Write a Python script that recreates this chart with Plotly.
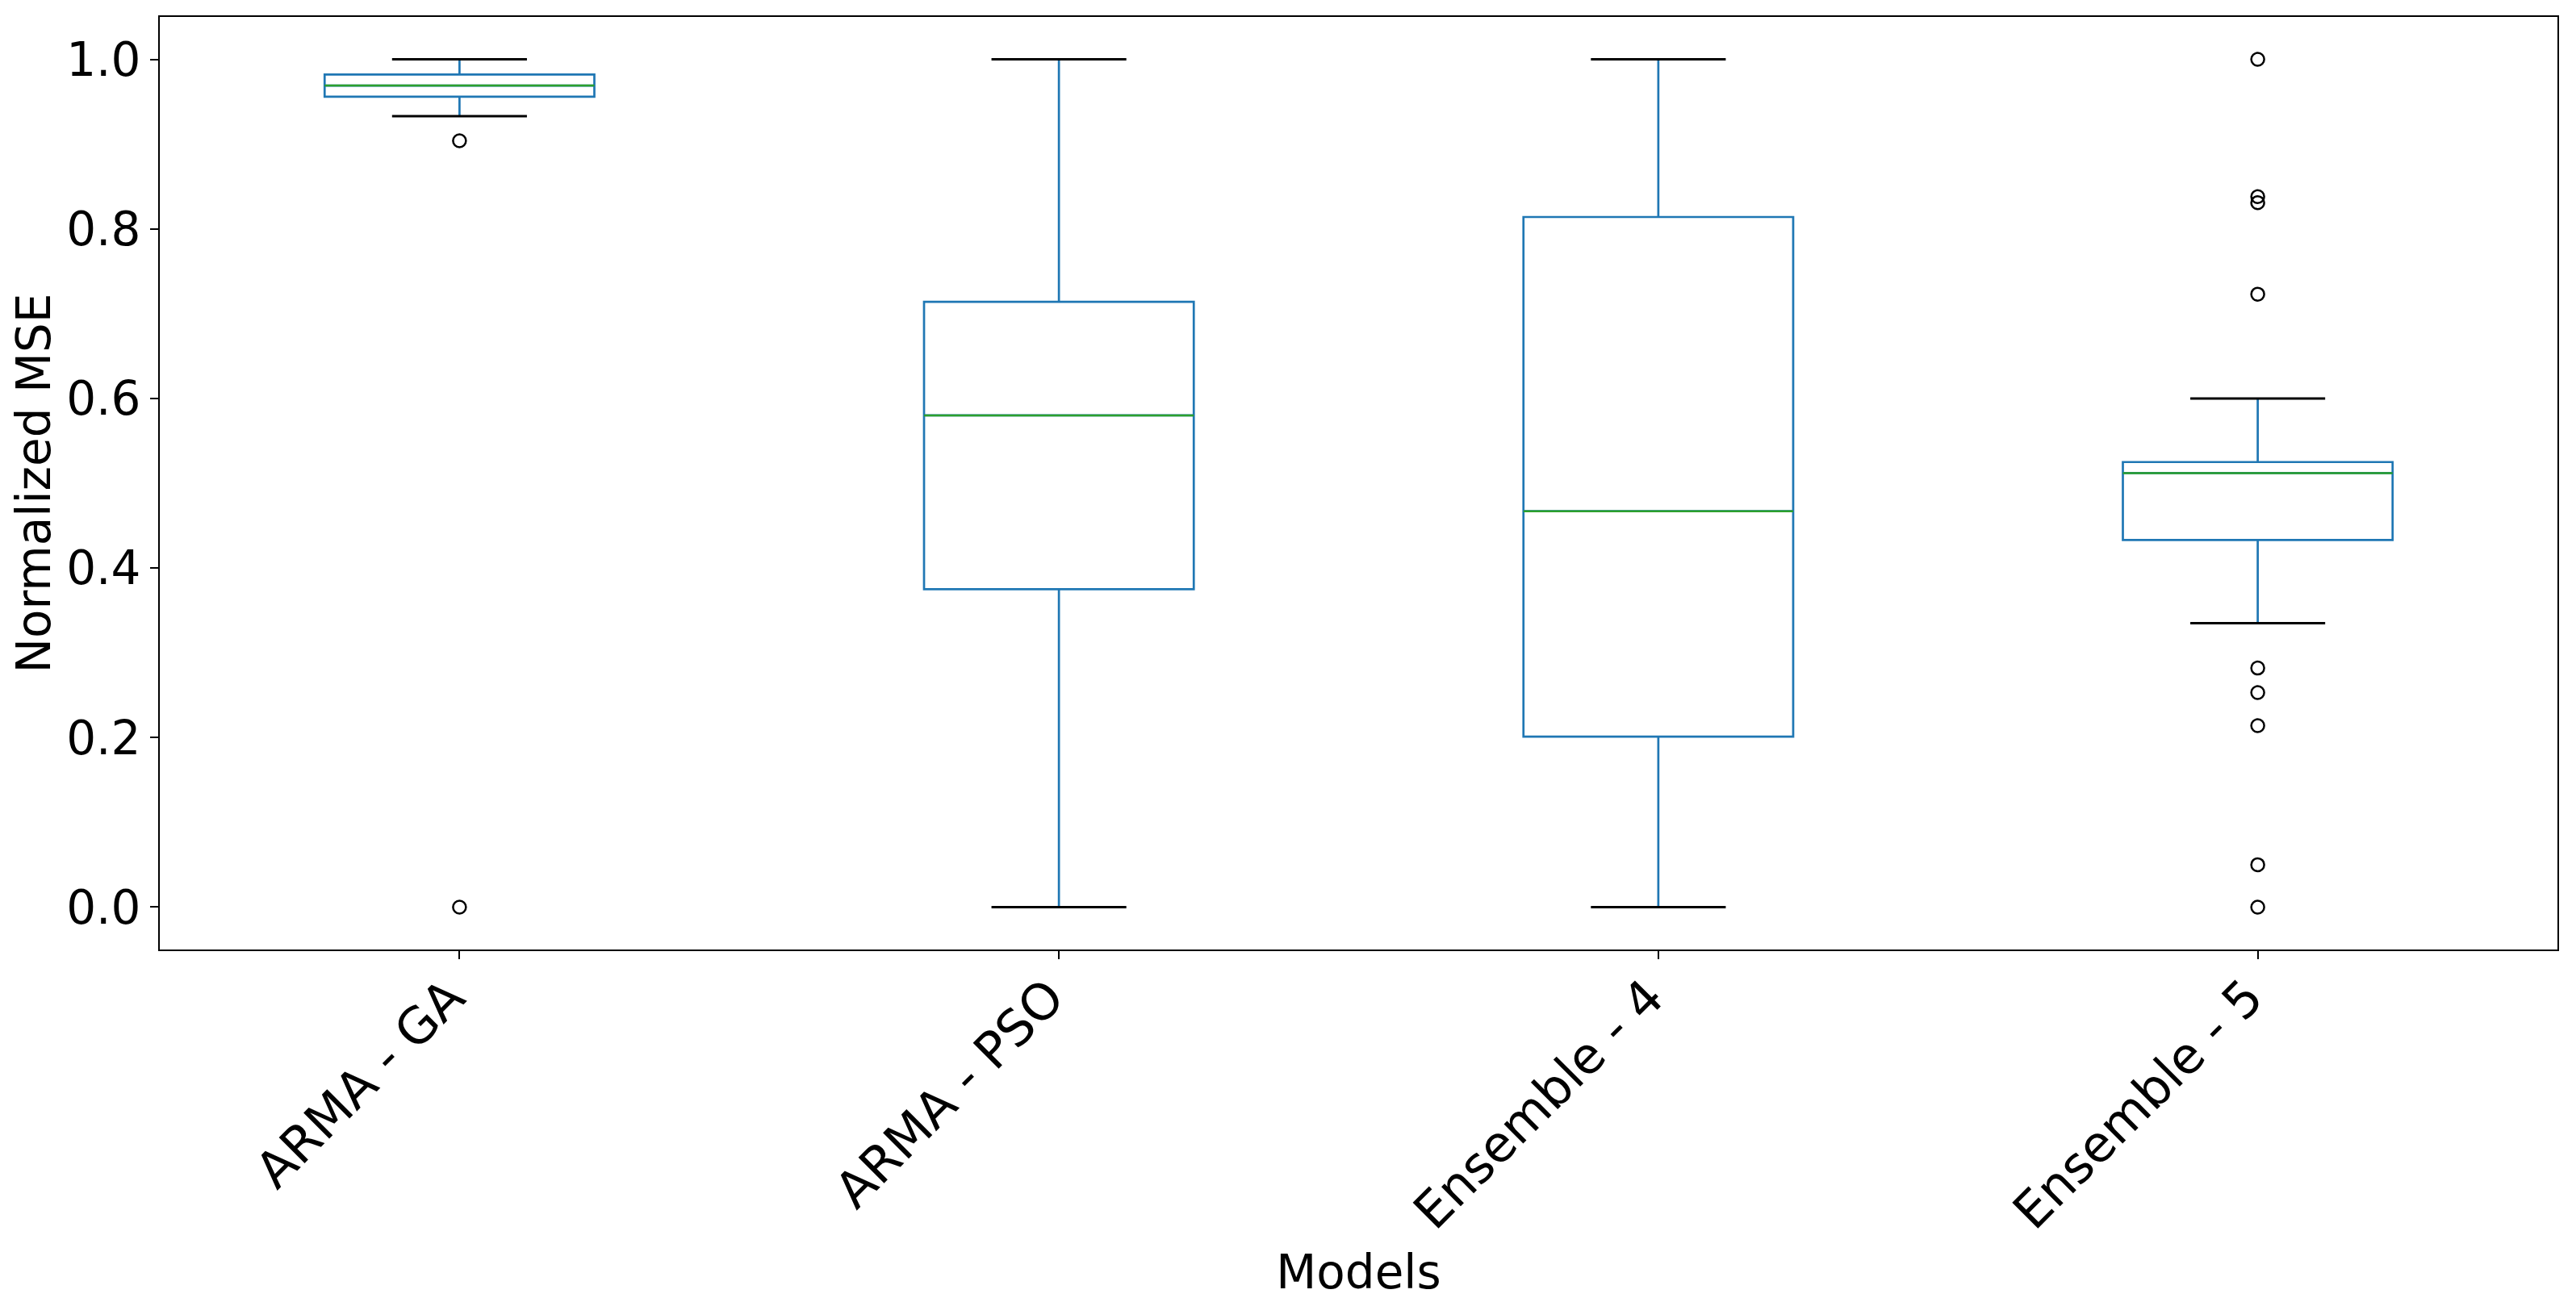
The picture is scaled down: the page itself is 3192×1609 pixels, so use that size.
import plotly.graph_objects as go

FONT = "DejaVu Sans"
FONT_SIZE = 58
BLUE = "#1f77b4"
GREEN = "#2ca02c"

models = ["ARMA - GA", "ARMA - PSO", "Ensemble - 4", "Ensemble - 5"]
q1 = [0.956, 0.375, 0.201, 0.433]
medians = [0.969, 0.580, 0.467, 0.512]
q3 = [0.982, 0.714, 0.814, 0.525]
lower_whisker = [0.933, 0.0, 0.0, 0.335]
upper_whisker = [1.0, 1.0, 1.0, 0.600]
outliers = [
    [0.904, 0.0],
    [],
    [],
    [1.0, 0.838, 0.831, 0.723, 0.282, 0.253, 0.214, 0.050, 0.0],
]

BOX_W = 0.45
CAP_W = BOX_W / 2
positions = list(range(1, len(models) + 1))

fig = go.Figure()

# boxes + blue whiskers (no caps, drawn separately in black)
fig.add_trace(
    go.Box(
        x=positions,
        q1=q1,
        median=medians,
        q3=q3,
        lowerfence=lower_whisker,
        upperfence=upper_whisker,
        width=BOX_W,
        whiskerwidth=0,
        line=dict(color=BLUE, width=2.7),
        fillcolor="rgba(0,0,0,0)",
        boxpoints=False,
    )
)

# green median lines
mx, my = [], []
for p, m in zip(positions, medians):
    mx += [p - BOX_W / 2, p + BOX_W / 2, None]
    my += [m, m, None]
fig.add_trace(go.Scatter(x=mx, y=my, mode="lines", line=dict(color=GREEN, width=2.5)))

# black caps
cx, cy = [], []
for p, lo, hi in zip(positions, lower_whisker, upper_whisker):
    for v in (lo, hi):
        cx += [p - CAP_W / 2, p + CAP_W / 2, None]
        cy += [v, v, None]
fig.add_trace(go.Scatter(x=cx, y=cy, mode="lines", line=dict(color="black", width=3)))

# outliers
ox, oy = [], []
for p, vals in zip(positions, outliers):
    ox += [p] * len(vals)
    oy += vals
fig.add_trace(
    go.Scatter(
        x=ox,
        y=oy,
        mode="markers",
        marker=dict(symbol="circle-open", size=16, color="black", line=dict(width=2.5)),
    )
)

axis_common = dict(
    showline=True,
    mirror=True,
    linecolor="black",
    linewidth=2,
    showgrid=False,
    zeroline=False,
    ticks="outside",
    ticklen=10,
    tickwidth=2,
    tickcolor="black",
)

fig.update_xaxes(
    range=[0.5, 4.5],
    tickvals=positions,
    ticktext=models,
    tickangle=-45,
    tickfont=dict(family=FONT, size=62, color="black"),
    ticklabelshift=-12,
    ticklabelstandoff=-14,
    title=dict(text="Models", font=dict(family=FONT, size=FONT_SIZE, color="black"), standoff=20),
    **axis_common,
)
fig.update_yaxes(
    range=[-0.05, 1.05],
    tickvals=[0, 0.2, 0.4, 0.6, 0.8, 1.0],
    tickformat=".1f",
    tickfont=dict(family=FONT, size=FONT_SIZE, color="black"),
    title=dict(text="Normalized MSE", font=dict(family=FONT, size=FONT_SIZE, color="black"), standoff=15),
    **axis_common,
)

fig.update_layout(
    width=3192,
    height=1609,
    showlegend=False,
    plot_bgcolor="white",
    paper_bgcolor="white",
    margin=dict(l=190, r=31, t=13, b=440),
    font=dict(family=FONT, size=FONT_SIZE, color="black"),
)

fig.write_html("out.html")
